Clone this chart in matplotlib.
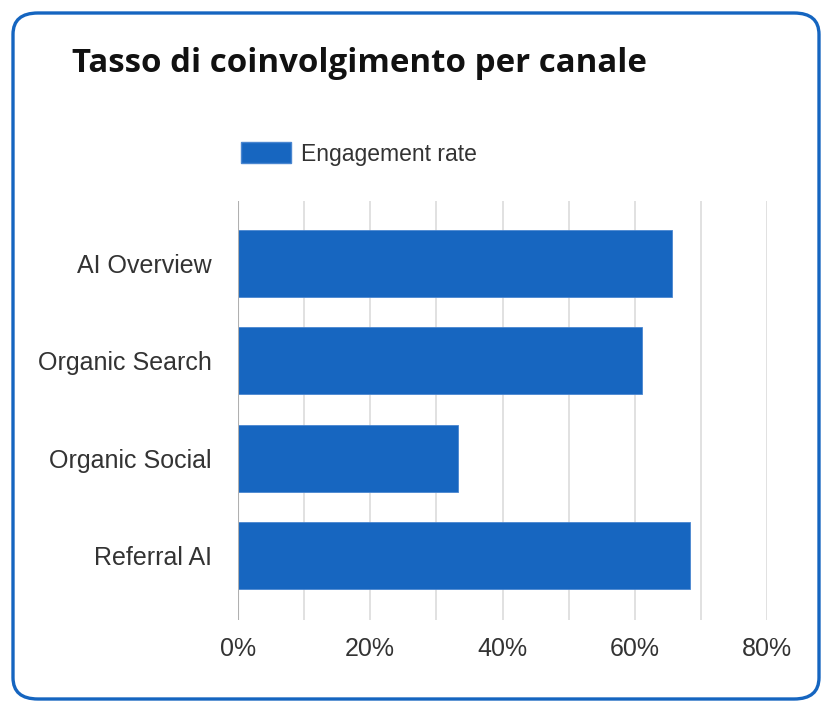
import matplotlib.pyplot as plt
from matplotlib.patches import FancyBboxPatch, Patch
from matplotlib.ticker import FuncFormatter, MultipleLocator

channels = ["AI Overview", "Organic Search", "Organic Social", "Referral AI"]
engagement = [65.7, 61.1, 33.3, 68.4]
series_name = "Engagement rate"
title = "Tasso di coinvolgimento per canale"

blue = "#1766C0"

fig = plt.figure(figsize=(8.31, 7.12), dpi=100)

# rounded frame around the whole card
W, H = 831, 712
frame = FancyBboxPatch((13 / W, 13 / H), (819 - 13) / W, (699 - 13) / H,
                       boxstyle="round,pad=0,rounding_size=0.03",
                       transform=fig.transFigure, facecolor="none",
                       edgecolor="#1565C0", linewidth=2.4, zorder=-1)
fig.patches.append(frame)

ax = fig.add_axes([238 / W, 92 / H, 529 / W, 419 / H])
ax.set_facecolor("none")

y = list(range(len(channels)))
ax.barh(y, engagement, height=0.69, color=blue, edgecolor="#4a86d0",
        linewidth=0.6, zorder=3)

ax.set_xlim(0, 80)
ax.set_ylim(3.663, -0.642)
ax.xaxis.set_major_locator(MultipleLocator(20))
ax.xaxis.set_minor_locator(MultipleLocator(10))
ax.xaxis.set_major_formatter(FuncFormatter(lambda v, p: f"{v:.0f}%"))
ax.grid(axis="x", which="both", color="#dcdcdc", linewidth=1.2, zorder=0)
ax.axvline(0, color="#b0b0b0", linewidth=1.5, zorder=4)

ax.set_yticks(y)
ax.set_yticklabels(channels, fontfamily="Liberation Sans")
for s in ax.spines.values():
    s.set_visible(False)
ax.tick_params(axis="both", which="both", length=0)
ax.tick_params(axis="y", pad=19, labelsize=18, labelcolor="#333333")
ax.tick_params(axis="x", pad=12, labelsize=18, labelcolor="#333333")
for lab in ax.get_xticklabels():
    lab.set_fontfamily("Liberation Sans")

fig.text(72 / W, 1 - 64 / H, title, fontsize=23.8, fontweight="bold",
         family="Open Sans", color="#111111", va="center", ha="left")

handle = Patch(facecolor=blue, edgecolor="#4a86d0")
fig.legend([handle], [series_name], loc="center left",
           bbox_to_anchor=(220 / W, 1 - 154 / H), frameon=False,
           handlelength=2.2, handleheight=1.0, handletextpad=0.45,
           prop={"family": "Liberation Sans", "size": 16.5},
           labelcolor="#333333")

fig.savefig("out.png", dpi=100)
